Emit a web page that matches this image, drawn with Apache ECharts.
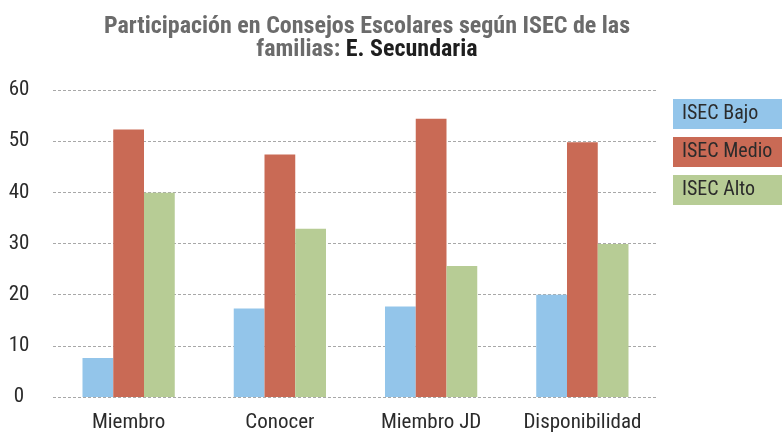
<!DOCTYPE html>
<html>
<head>
<meta charset="utf-8">
<script src="https://cdn.jsdelivr.net/npm/echarts@6/dist/echarts.min.js"></script>
<style>
  html, body { margin: 0; padding: 0; background: #fff; }
  #myChart { width: 782px; height: 433px; }
</style>
</head>
<body>
<div id="myChart"></div>
<script>
// datos
const categories = ["Miembro", "Conocer", "Miembro JD", "Disponibilidad"];
const isecBajo = [7.6, 17.3, 17.7, 20.0];
const isecMedio = [52.3, 47.4, 54.4, 49.8];
const isecAlto = [39.9, 32.9, 25.6, 29.9];
const seriesNames = ["ISEC Bajo", "ISEC Medio", "ISEC Alto"];
const colors = ["#93C5EA", "#C96A55", "#B7CC95"];

const font = "'Liberation Sans Narrow', 'Roboto Condensed', 'Roboto', sans-serif";

let myChart = echarts.init(document.getElementById("myChart"));

myChart.setOption({
  animation: false,
  textStyle: { fontFamily: font },
  title: {
    text: "Participación en Consejos Escolares según ISEC de las\nfamilias: {b|E. Secundaria}",
    left: 362,
    top: 10,
    textAlign: "center",
    textStyle: {
      fontFamily: font,
      fontSize: 24,
      fontWeight: "bold",
      color: "#6b6b6b",
      lineHeight: 23,
      rich: {
        b: { fontFamily: font, fontSize: 24, fontWeight: "bold", color: "#1e1e1e", lineHeight: 23 }
      }
    }
  },
  legend: {
    orient: "vertical",
    left: 663,
    top: 94,
    itemGap: 8,
    itemWidth: 0,
    itemHeight: 0,
    selectedMode: false,
    data: seriesNames.map((n, i) => ({
      name: n,
      textStyle: {
        fontFamily: font,
        fontSize: 20,
        color: "#2b2b2b",
        backgroundColor: colors[i],
        width: 105,
        height: 30,
        lineHeight: 30,
        padding: [0, 0, 0, 9]
      }
    }))
  },
  grid: {
    left: 53,
    right: 124,
    top: 90,
    bottom: 33
  },
  xAxis: {
    type: "category",
    data: categories,
    axisLine: { show: false },
    axisTick: { show: false },
    axisLabel: { interval: 0, fontSize: 21, color: "#2b2b2b", margin: 15 }
  },
  yAxis: {
    type: "value",
    min: 0,
    max: 60,
    interval: 10,
    axisLine: { show: false },
    axisTick: { show: false },
    axisLabel: { fontSize: 21, color: "#2b2b2b", align: "center", margin: 34 },
    splitLine: { lineStyle: { type: [3, 2], color: "#a8a8a8", width: 1 } }
  },
  series: [
    { name: seriesNames[0], type: "bar", data: isecBajo, itemStyle: { color: colors[0] }, barGap: "0%", barCategoryGap: "39%" },
    { name: seriesNames[1], type: "bar", data: isecMedio, itemStyle: { color: colors[1] }, barGap: "0%", barCategoryGap: "39%" },
    { name: seriesNames[2], type: "bar", data: isecAlto, itemStyle: { color: colors[2] }, barGap: "0%", barCategoryGap: "39%" }
  ]
});
</script>
</body>
</html>
